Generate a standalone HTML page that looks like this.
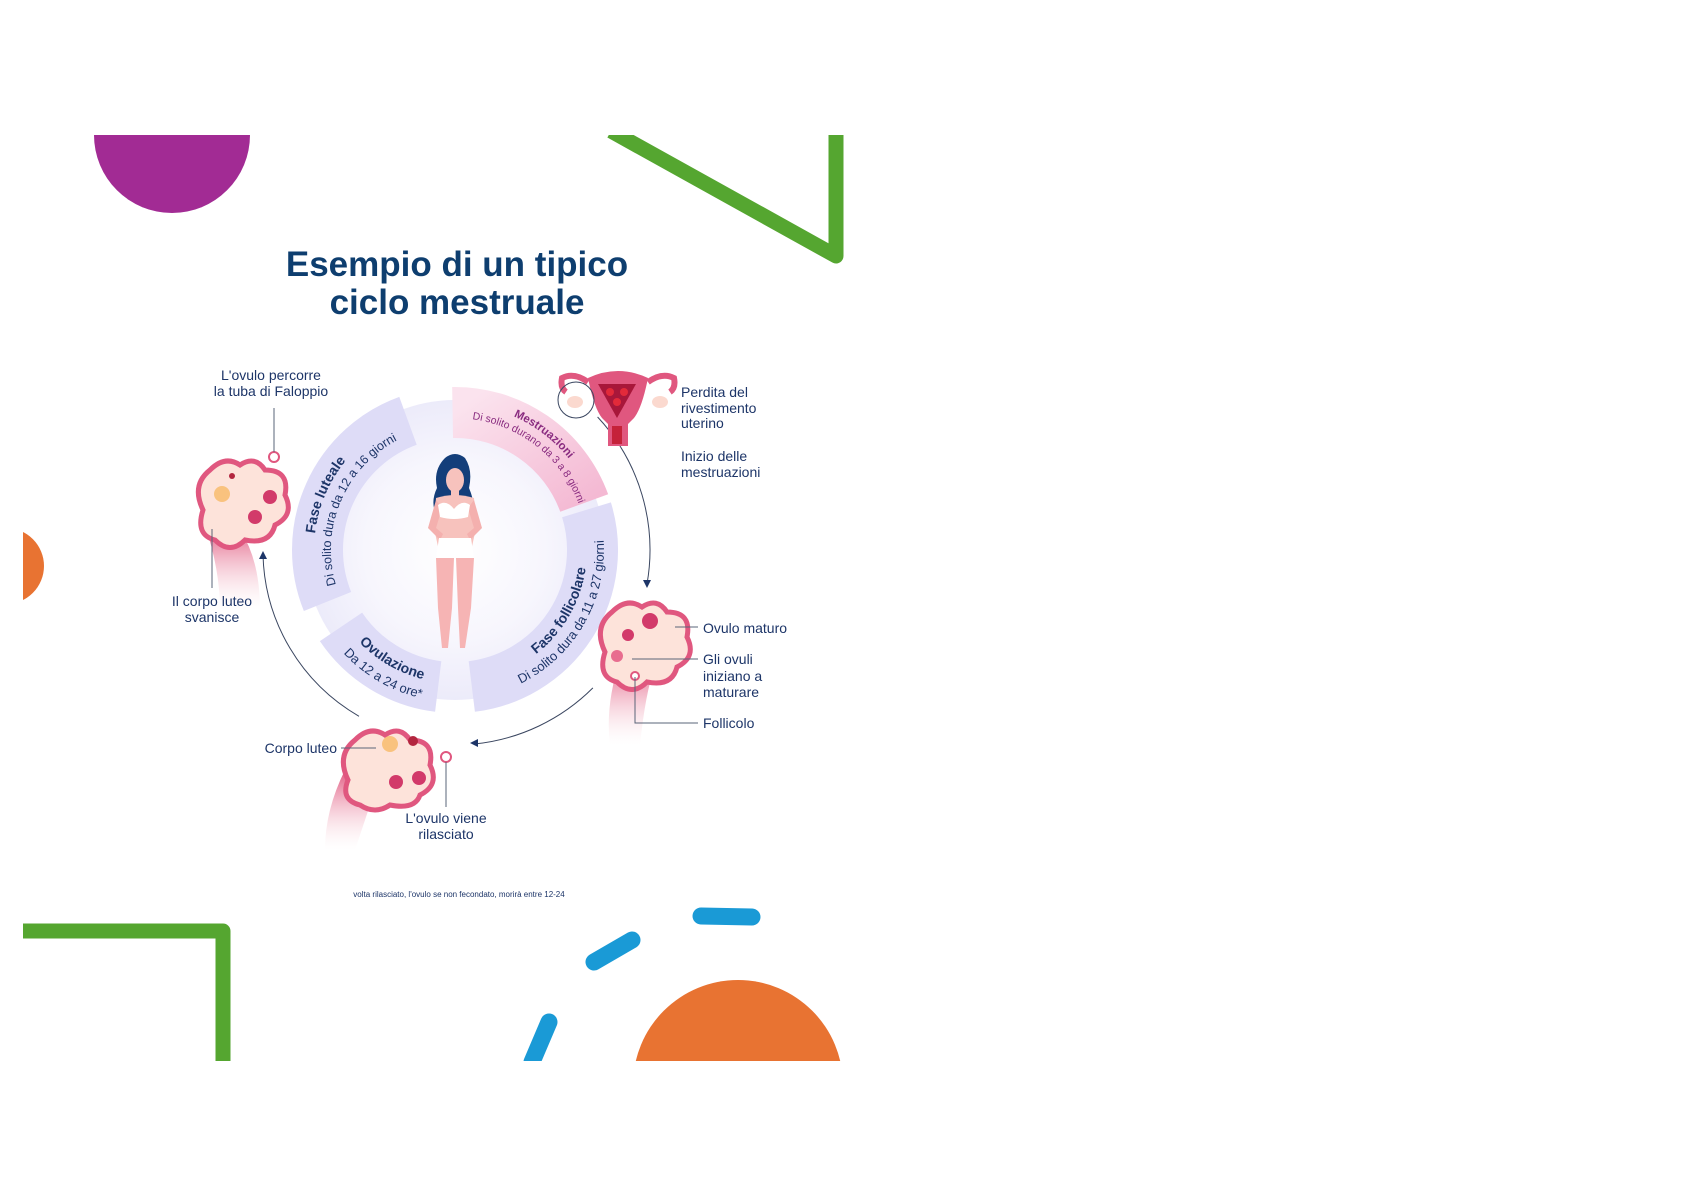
<!DOCTYPE html>
<html><head><meta charset="utf-8"><style>
html,body{margin:0;padding:0;background:#fff}
svg{display:block}
text{font-family:"Liberation Sans",sans-serif}
</style></head><body>
<svg width="1684" height="1191" viewBox="0 0 1684 1191" xmlns="http://www.w3.org/2000/svg">
<defs>
<clipPath id="c"><rect x="23" y="135" width="821" height="926"/></clipPath>
<radialGradient id="glow" cx="0.5" cy="0.5" r="0.5">
<stop offset="0" stop-color="#ffffff"/><stop offset="0.6" stop-color="#f7f6fd"/><stop offset="1" stop-color="#ecebfa"/></radialGradient>
<linearGradient id="pink" x1="0" y1="0" x2="1" y2="1"><stop offset="0" stop-color="#fbe3ee"/><stop offset="1" stop-color="#f4b9d3"/></linearGradient>
<linearGradient id="tube" x1="0" y1="0" x2="0" y2="1"><stop offset="0" stop-color="#e0577f"/><stop offset="1" stop-color="#fbe0e4" stop-opacity="0"/></linearGradient>
<path id="lt" d="M320.2,591.2 A141,141 0 0 1 391.0,424.4"/>
<path id="ls" d="M340.0,596.5 A124,124 0 0 1 408.5,435.0"/>
<path id="mt" d="M480.3,406.2 A146,146 0 0 1 587.3,488.3"/>
<path id="ms" d="M443.5,418.5 A132,132 0 0 1 585.7,531.6"/>
<path id="ft" d="M466.5,681.5 A132,132 0 0 0 574.6,494.2"/>
<path id="fs" d="M468.0,698.4 A149,149 0 0 0 590.0,487.0"/>
<path id="ot" d="M330.0,595.5 A133,133 0 0 0 478.1,681.0"/>
<path id="os" d="M312.2,602.0 A152,152 0 0 0 481.4,699.7"/>
</defs>
<g clip-path="url(#c)">
<!-- decor -->
<circle cx="172" cy="135" r="78" fill="#a22b94"/>
<polyline points="611,131 836,256 836,131" fill="none" stroke="#55a630" stroke-width="15" stroke-linejoin="round"/>
<circle cx="6" cy="566" r="38" fill="#e87332"/>
<polyline points="23,931 223,931 223,1070" fill="none" stroke="#55a630" stroke-width="15" stroke-linejoin="round"/>
<circle cx="738" cy="1085" r="105" fill="#e87332"/>
<g stroke="#1a9ad6" stroke-width="17" stroke-linecap="round" fill="none">
<line x1="701" y1="916" x2="752" y2="917"/>
<line x1="594" y1="962" x2="632" y2="940"/>
<line x1="532" y1="1062" x2="549" y2="1022"/>
</g>
<!-- title -->
<text x="457" y="276" font-size="35" font-weight="bold" fill="#0e3e6f" text-anchor="middle">Esempio di un tipico</text>
<text x="457" y="314" font-size="35" font-weight="bold" fill="#0e3e6f" text-anchor="middle">ciclo mestruale</text>
<!-- ring -->
<circle cx="455" cy="550" r="150" fill="url(#glow)"/>
<g fill="none" stroke-width="51">
<path d="M452.6,412.5 A137.5,137.5 0 0 1 584.2,503.0" stroke="url(#pink)"/>
<path d="M586.5,509.8 A137.5,137.5 0 0 1 471.8,686.5" stroke="#dedcf7"/>
<path d="M438.2,686.5 A137.5,137.5 0 0 1 341.0,626.9" stroke="#dedcf7"/>
<path d="M327.5,601.5 A137.5,137.5 0 0 1 408.0,420.8" stroke="#dedcf7"/>
</g>
<g fill="#1d3568">
<text font-size="14" font-weight="bold"><textPath href="#lt" startOffset="50%" text-anchor="middle">Fase luteale</textPath></text>
<text font-size="12.5"><textPath href="#ls" startOffset="50%" text-anchor="middle">Di solito dura da 12 a 16 giorni</textPath></text>
<text font-size="14" font-weight="bold"><textPath href="#ft" startOffset="50%" text-anchor="middle">Fase follicolare</textPath></text>
<text font-size="13"><textPath href="#fs" startOffset="50%" text-anchor="middle">Di solito dura da 11 a 27 giorni</textPath></text>
<text font-size="14" font-weight="bold"><textPath href="#ot" startOffset="50%" text-anchor="middle">Ovulazione</textPath></text>
<text font-size="13"><textPath href="#os" startOffset="50%" text-anchor="middle">Da 12 a 24 ore*</textPath></text>
</g>
<g fill="#8a2c80">
<text font-size="11.5" font-weight="bold"><textPath href="#mt" startOffset="50%" text-anchor="middle">Mestruazioni</textPath></text>
<text font-size="10.5"><textPath href="#ms" startOffset="50%" text-anchor="middle">Di solito durano da 3 a 8 giorni</textPath></text>
</g>
<!-- woman -->
<g>
<path d="M445,458 q10,-8 20,0 q8,12 4,30 q6,14 4,24 l-38,0 q-4,-12 2,-24 q-4,-18 8,-30z" fill="#143e7a"/>
<ellipse cx="455" cy="480" rx="9" ry="12" fill="#f7c2bd"/>
<rect x="451" y="490" width="8" height="8" fill="#f7c2bd"/>
<path d="M436,498 q19,-6 38,0 l2,30 l-6,28 l-30,0 l-6,-28z" fill="#f7c2bd"/>
<path d="M436,500 l-8,28 l12,12 l3,-6 l-7,-6 l6,-20z M474,500 l8,28 l-12,12 l-3,-6 l7,-6 l-6,-20z" fill="#f4b0ae"/>
<path d="M438,505 q8,-6 16,4 q8,-10 16,-4 l-2,12 q-14,4 -28,0z" fill="#ffffff"/>
<path d="M439,538 l32,0 l3,20 l-38,0z" fill="#ffffff"/>
<path d="M436,558 l18,0 l-2,50 l-4,40 l-6,0 l-4,-40z M456,558 l18,0 l-3,50 l-6,40 l-5,0 l-2,-40z" fill="#f6b4b4"/>
</g>
<!-- arrows -->
<g fill="none" stroke="#3a4660" stroke-width="1">
<path d="M597.6,417.0 A195,195 0 0 1 647.0,583.9"/>
<path d="M592.9,687.9 A195,195 0 0 1 475.4,743.9"/>
<path d="M359,716.3 A192,192 0 0 1 263,555"/>
</g>
<g fill="#1d3568">
<path d="M643,580 l8,0 l-4,8z"/>
<path d="M478,739 l0,8 l-8,-4z"/>
<path d="M259,559 l8,0 l-4,-8z"/>
</g>
<!-- uterus -->
<g>
<path d="M588,378 q30,-14 60,0 q-6,30 -14,40 l-6,6 l0,22 l-20,0 l0,-22 l-6,-6 q-8,-10 -14,-40z" fill="#e0577f"/>
<path d="M598,384 l38,0 l-19,34z" fill="#a8173a"/>
<circle cx="610" cy="392" r="4" fill="#e22a3a"/><circle cx="624" cy="392" r="4" fill="#e22a3a"/><circle cx="617" cy="402" r="4" fill="#e22a3a"/>
<rect x="612" y="426" width="10" height="18" fill="#c5223a"/>
<path d="M588,382 q-14,-10 -26,-4 q-2,10 4,14 M648,382 q14,-10 26,-4 q2,10 -4,14" fill="none" stroke="#e0577f" stroke-width="6"/>
<ellipse cx="575" cy="402" rx="8" ry="6" fill="#fbd9cf"/><ellipse cx="660" cy="402" rx="8" ry="6" fill="#fbd9cf"/>
<circle cx="576" cy="400" r="18" fill="none" stroke="#3a4660" stroke-width="1"/>
</g>
<!-- ovaries -->
<g>
<path d="M205,525 q20,10 35,5 q20,30 20,80 l-40,0 q0,-40 -15,-85z" fill="url(#tube)"/>
<path d="M210,470 q15,-15 30,-5 q15,-10 25,5 q25,0 20,25 q10,20 -10,30 q-5,20 -30,15 q-15,15 -30,0 q-20,-5 -12,-30 q-12,-25 7,-40z" fill="#fde3da" stroke="#e0577f" stroke-width="5"/>
<circle cx="222" cy="494" r="8" fill="#f9c27e"/><circle cx="270" cy="497" r="7" fill="#d23a6a"/><circle cx="255" cy="517" r="7" fill="#d23a6a"/><circle cx="232" cy="476" r="3" fill="#b3263f"/>
<circle cx="274" cy="457" r="5" fill="#fff" stroke="#e0577f" stroke-width="2"/>
<path d="M620,660 q20,10 35,5 q-10,30 -15,80 l-30,0 q-5,-40 10,-85z" fill="url(#tube)"/>
<path d="M612,612 q15,-15 30,-5 q15,-10 25,5 q25,0 20,25 q10,20 -10,30 q-5,20 -30,15 q-15,15 -30,0 q-20,-5 -12,-30 q-12,-25 7,-40z" fill="#fde3da" stroke="#e0577f" stroke-width="5"/>
<circle cx="650" cy="621" r="8" fill="#d23a6a"/><circle cx="628" cy="635" r="6" fill="#d23a6a"/><circle cx="617" cy="656" r="6" fill="#e86d8f"/><circle cx="635" cy="676" r="4" fill="#fff" stroke="#e0577f" stroke-width="2"/>
<path d="M345,770 q20,10 35,5 q-10,30 -25,75 l-30,0 q0,-40 20,-80z" fill="url(#tube)"/>
<path d="M355,740 q15,-15 30,-5 q15,-10 25,5 q25,0 20,25 q10,20 -10,30 q-5,15 -30,10 q-15,10 -30,0 q-20,-5 -12,-25 q-12,-25 7,-40z" fill="#fde3da" stroke="#e0577f" stroke-width="5"/>
<circle cx="390" cy="744" r="8" fill="#f9c27e"/><circle cx="413" cy="741" r="5" fill="#b3263f"/><circle cx="396" cy="782" r="7" fill="#d23a6a"/><circle cx="419" cy="778" r="7" fill="#d23a6a"/>
<circle cx="446" cy="757" r="5" fill="#fff" stroke="#e0577f" stroke-width="2"/>
</g>
<!-- leaders -->
<g stroke="#5a6478" stroke-width="1" fill="none">
<line x1="274" y1="408" x2="274" y2="452"/>
<line x1="212" y1="529" x2="212" y2="588"/>
<line x1="675" y1="627" x2="698" y2="627"/>
<line x1="632" y1="659" x2="698" y2="659"/>
<polyline points="635,677 635,723 698,723"/>
<line x1="341" y1="748" x2="376" y2="748"/>
<line x1="446" y1="762" x2="446" y2="807"/>
</g>
<!-- labels -->
<g fill="#1d3568" font-size="14">
<text x="271" y="380" text-anchor="middle">L'ovulo percorre</text>
<text x="271" y="396" text-anchor="middle">la tuba di Faloppio</text>
<text x="681" y="397">Perdita del</text>
<text x="681" y="413">rivestimento</text>
<text x="681" y="428">uterino</text>
<text x="681" y="461">Inizio delle</text>
<text x="681" y="477">mestruazioni</text>
<text x="703" y="633">Ovulo maturo</text>
<text x="703" y="664">Gli ovuli</text>
<text x="703" y="681">iniziano a</text>
<text x="703" y="697">maturare</text>
<text x="703" y="728">Follicolo</text>
<text x="212" y="606" text-anchor="middle">Il corpo luteo</text>
<text x="212" y="622" text-anchor="middle">svanisce</text>
<text x="337" y="753" text-anchor="end">Corpo luteo</text>
<text x="446" y="823" text-anchor="middle">L'ovulo viene</text>
<text x="446" y="839" text-anchor="middle">rilasciato</text>
<text x="459" y="897" font-size="8" text-anchor="middle">volta rilasciato, l'ovulo se non fecondato, morirà entre 12-24</text>
</g>
</g>
</svg>
</body></html>
